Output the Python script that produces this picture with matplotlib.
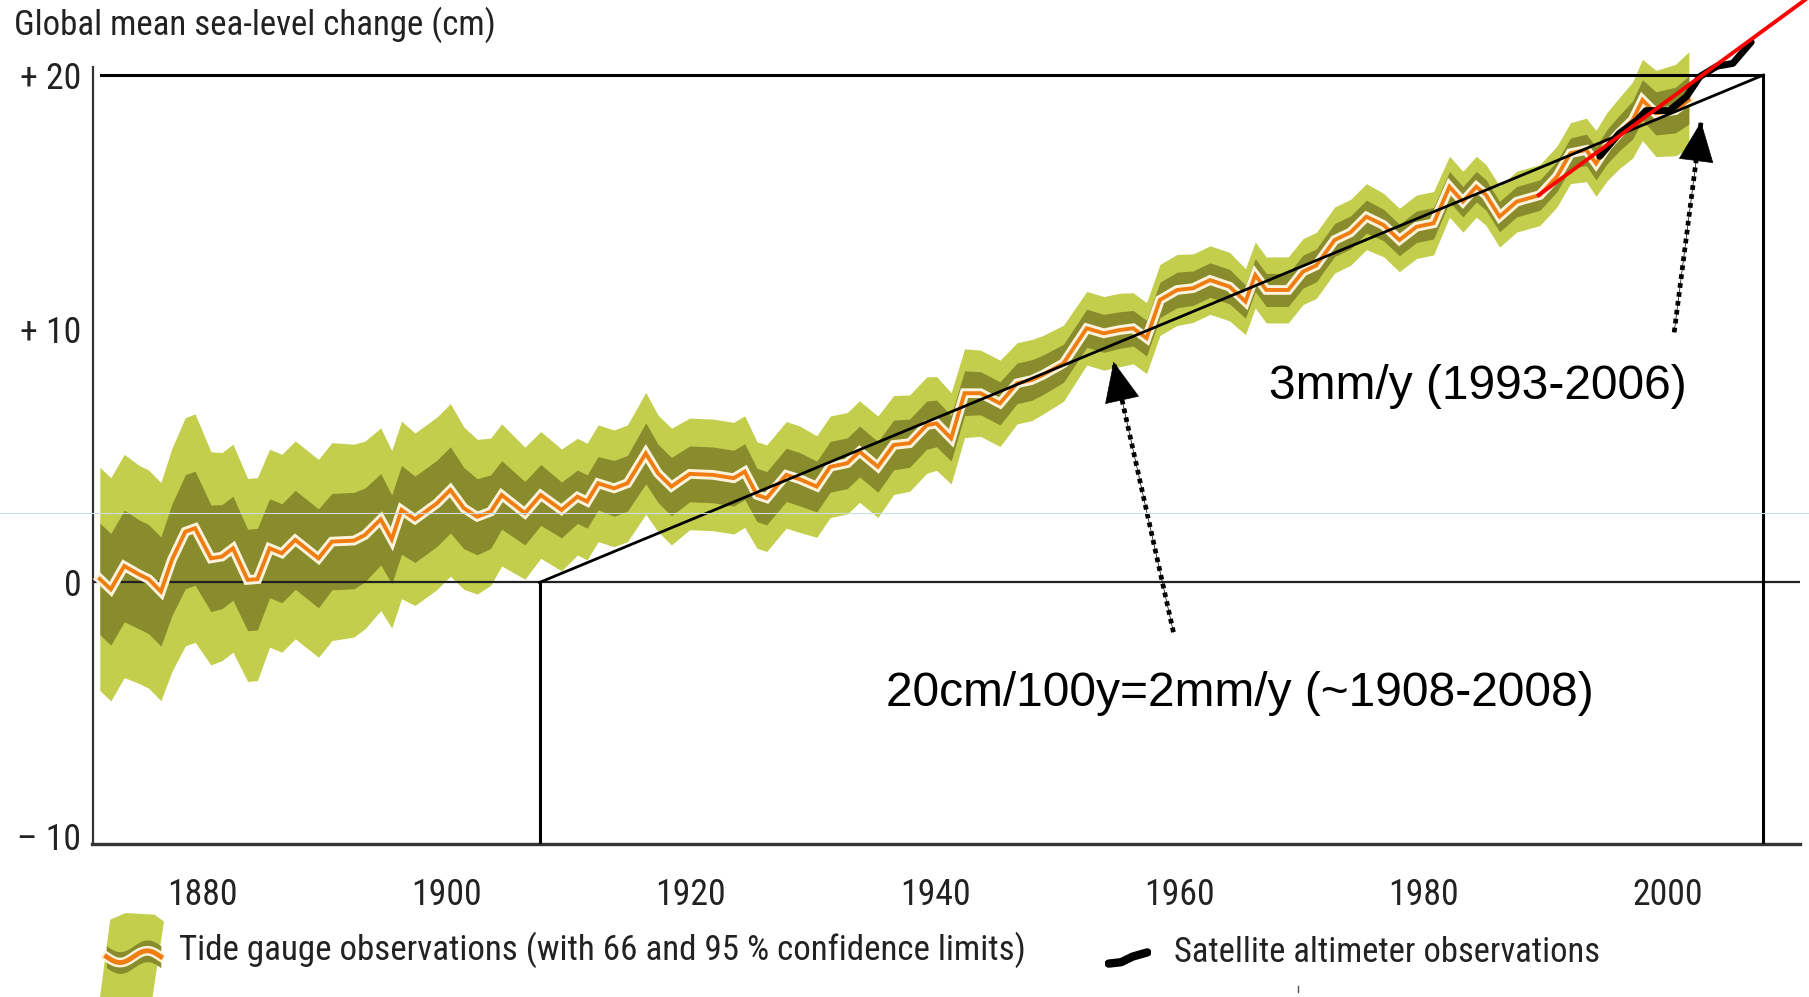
import numpy as np
import matplotlib
matplotlib.use('Agg')
import matplotlib.pyplot as plt
import matplotlib.patheffects as pe
import matplotlib.font_manager as fm
from matplotlib.patches import Polygon

# Tide gauge record, cm
years = [1871.6, 1872.5, 1873.6, 1874.8, 1875.6, 1876.6, 1877.5, 1878.6, 1879.4, 1880.7,
         1881.6, 1882.5, 1883.7, 1884.5, 1885.5, 1886.5, 1887.6, 1889.5, 1890.6, 1892.4,
         1893.3, 1894.6, 1895.5, 1896.3, 1897.4, 1899.2, 1900.3, 1901.4, 1902.5, 1903.6,
         1904.5, 1906.4, 1907.7, 1909.4, 1910.7, 1911.5, 1912.4, 1913.7, 1914.8, 1916.3,
         1917.3, 1918.4, 1919.9, 1921.8, 1923.5, 1924.4, 1925.4, 1926.2, 1927.8, 1928.9,
         1930.3, 1931.4, 1932.8, 1933.8, 1935.3, 1936.6, 1937.9, 1939.3, 1940.1, 1941.3,
         1942.4, 1943.7, 1945.3, 1946.7, 1947.9, 1948.8, 1950.5, 1952.4, 1953.8, 1955.1,
         1956.2, 1957.3, 1958.4, 1959.8, 1961.1, 1962.5, 1964.1, 1965.4, 1966.2, 1967.1,
         1968.9, 1970.1, 1971.2, 1972.7, 1974.0, 1975.3, 1976.7, 1978.0, 1979.4, 1980.8,
         1982.1, 1983.2, 1984.3, 1985.1, 1986.2, 1987.6, 1989.5, 1990.9, 1992.0, 1993.3,
         1994.1, 1995.0, 1996.0, 1997.1, 1997.9, 1999.0, 2000.6, 2001.7]
sea_level = [0.14, -0.27, 0.65, 0.32, 0.13, -0.36, 0.89, 2.00, 2.14, 0.95,
             1.02, 1.35, 0.10, 0.13, 1.35, 1.15, 1.68, 0.95, 1.61, 1.65,
             1.87, 2.49, 1.70, 2.86, 2.49, 3.12, 3.65, 2.93, 2.59, 2.79,
             3.45, 2.73, 3.45, 2.86, 3.38, 3.19, 3.91, 3.71, 3.91, 5.09,
             4.30, 3.78, 4.28, 4.24, 4.11, 4.37, 3.45, 3.32, 4.24, 4.07,
             3.78, 4.56, 4.70, 5.16, 4.56, 5.42, 5.49, 6.20, 6.27, 5.68,
             7.46, 7.46, 7.06, 7.85, 7.98, 8.18, 8.64, 10.02, 9.82, 9.95,
             10.02, 9.63, 11.14, 11.53, 11.60, 11.92, 11.66, 11.07, 12.12, 11.53,
             11.53, 12.25, 12.50, 13.50, 13.80, 14.42, 14.09, 13.50, 14.02, 14.16,
             15.60, 15.01, 15.60, 15.27, 14.42, 15.01, 15.27, 16.00, 16.92, 17.05,
             16.52, 17.18, 17.71, 18.23, 19.02, 18.49, 18.62, 19.02]
# half widths of the 95 % and 66 % confidence bands
ci95 = [4.4, 4.4, 4.4, 4.3, 4.3, 4.3, 4.4, 4.5, 4.5, 4.2,
        4.1, 4.1, 4.0, 4.0, 3.9, 3.9, 3.9, 3.9, 3.9, 3.8,
        3.7, 3.6, 3.5, 3.5, 3.4, 3.4, 3.4, 3.2, 3.05, 2.9,
        2.8, 2.6, 2.5, 2.4, 2.3, 2.3, 2.3, 2.3, 2.3, 2.4,
        2.3, 2.3, 2.2, 2.2, 2.2, 2.2, 2.1, 2.1, 2.1, 2.1,
        2.0, 2.0, 2.0, 2.0, 2.0, 1.95, 1.9, 1.9, 1.85, 1.8,
        1.75, 1.7, 1.7, 1.6, 1.6, 1.55, 1.5, 1.45, 1.45, 1.45,
        1.4, 1.4, 1.4, 1.4, 1.35, 1.35, 1.35, 1.3, 1.3, 1.3,
        1.3, 1.3, 1.3, 1.3, 1.3, 1.3, 1.25, 1.25, 1.25, 1.25,
        1.2, 1.2, 1.2, 1.2, 1.2, 1.2, 1.2, 1.2, 1.2, 1.25,
        1.3, 1.35, 1.4, 1.5, 1.6, 1.7, 1.8, 1.9]
ci66 = [2.2, 2.2, 2.2, 2.15, 2.15, 2.15, 2.2, 2.25, 2.25, 2.1,
        2.05, 2.05, 2.0, 2.0, 1.95, 1.95, 1.95, 1.95, 1.9, 1.9,
        1.85, 1.8, 1.75, 1.75, 1.7, 1.7, 1.7, 1.6, 1.5, 1.45,
        1.35, 1.25, 1.2, 1.1, 1.05, 1.05, 1.05, 1.1, 1.1, 1.2,
        1.15, 1.15, 1.1, 1.1, 1.1, 1.1, 1.05, 1.05, 1.05, 1.05,
        1.0, 1.0, 1.0, 1.0, 1.0, 0.98, 0.95, 0.95, 0.92, 0.9,
        0.88, 0.85, 0.85, 0.8, 0.8, 0.78, 0.75, 0.75, 0.75, 0.72,
        0.7, 0.7, 0.7, 0.7, 0.68, 0.68, 0.68, 0.65, 0.65, 0.65,
        0.65, 0.65, 0.65, 0.65, 0.65, 0.65, 0.62, 0.62, 0.62, 0.62,
        0.6, 0.6, 0.6, 0.6, 0.6, 0.6, 0.6, 0.6, 0.6, 0.62,
        0.65, 0.68, 0.7, 0.75, 0.8, 0.85, 0.9, 0.95]

# Satellite altimeter record
sat_years = [1994.4, 1996.0, 1997.4, 1998.2, 2000.1, 2001.5, 2002.6, 2004.0, 2005.3, 2006.8]
sat_level = [16.8, 17.7, 18.2, 18.6, 18.6, 19.15, 19.94, 20.35, 20.46, 21.3]

# trend annotations
trend100_start = (1907.6, 0.0)
trend100_end = (2007.8, 20.0)
trend3mm_start = (1989.4, 15.27)
trend3mm_end = (2011.2, 22.96)
arrows = [((1959.5, -1.96), (1954.6, 8.70)), ((2000.5, 9.86), (2002.7, 18.16))]

yticks = [20, 10, 0, -10]
ytick_labels = ['+ 20', '+ 10', '0', '\u2013 10']
xticks = [1880, 1900, 1920, 1940, 1960, 1980, 2000]

# pick a condensed face if one is there, else plain Liberation Sans
avail = {(f.name, f.stretch) for f in fm.fontManager.ttflist}
names = {n for n, s in avail}
narrow = dict(family=['Liberation Sans', 'DejaVu Sans'])
for cand in ['Liberation Sans Narrow', 'Arial Narrow', 'Roboto Condensed', 'Open Sans Condensed']:
    if cand in names:
        narrow = dict(family=[cand, 'DejaVu Sans'])
        break
else:
    if ('DejaVu Sans', 'condensed') in avail or ('DejaVu Sans', 'semi-condensed') in avail:
        narrow = dict(family=['DejaVu Sans'], stretch='condensed')
arial = ['Liberation Sans', 'DejaVu Sans']

light_green = '#c2ce4c'
dark_green = '#888c2c'
orange = '#f07d12'

W, H = 1809, 997
fig = plt.figure(figsize=(W / 100, H / 100), dpi=100)
renderer = fig.canvas.get_renderer()


def fit_width(txt, target):
    w = txt.get_window_extent(renderer).width
    txt.set_fontsize(txt.get_fontsize() * target / w)
    return txt


ax = fig.add_axes([92.5 / W, 1 - 844 / H, (1800 - 92.5) / W, 844 / H])
ax.set_xlim(1871.0, 2010.8)
ax.set_ylim(-10.31, 22.96)

yr = np.array(years)
sl = np.array(sea_level)
c95 = np.array(ci95)
c66 = np.array(ci66)

ax.fill_between(yr, sl - c95, sl + c95, color=light_green, lw=0, zorder=1)
ax.fill_between(yr, sl - c66, sl + c66, color=dark_green, lw=0, zorder=2)
ax.axhline(0, color='#222222', lw=1.6, zorder=3)
ax.plot(yr, sl, color=orange, lw=2.8, zorder=4, solid_joinstyle='miter',
        path_effects=[pe.Stroke(linewidth=7, foreground='#fbf3dc'), pe.Normal()])
ax.plot(sat_years, sat_level, color='black', lw=5, zorder=5,
        solid_capstyle='round', clip_on=False)

# box and 100-year trend line
ax.plot([1871.7, trend100_end[0]], [trend100_end[1], trend100_end[1]], color='black', lw=2.2, zorder=6)
ax.plot([trend100_end[0], trend100_end[0]], [-10.31, trend100_end[1]], color='black', lw=2.2, zorder=6)
ax.plot([trend100_start[0], trend100_start[0]], [-10.31, 0], color='black', lw=2.2, zorder=6)
ax.plot([trend100_start[0], trend100_end[0]], [trend100_start[1], trend100_end[1]],
        color='black', lw=2.0, zorder=6)
# recent trend
ax.plot([trend3mm_start[0], trend3mm_end[0]], [trend3mm_start[1], trend3mm_end[1]],
        color='#ff0000', lw=2.8, zorder=7, clip_on=False)

# dotted arrows: dotted shaft plus a filled head
for tail, tip in arrows:
    ax.plot([tail[0], tip[0]], [tail[1], tip[1]], color='black', lw=3.4,
            ls=(0, (1.0, 0.9)), zorder=8)
    ax.annotate('', xy=tip, xytext=tail,
                arrowprops=dict(arrowstyle='-|>,head_length=1.25,head_width=0.55',
                                lw=0.5, color='black', mutation_scale=22,
                                shrinkA=0, shrinkB=0), zorder=9)

t1 = ax.text(1967.3, 7.73, '3mm/y (1993-2006)', fontsize=34, family=arial,
             ha='left', va='center')
fit_width(t1, 418)
t2 = ax.text(1936.0, -4.39, '20cm/100y=2mm/y (~1908-2008)', fontsize=34, family=arial,
             ha='left', va='center')
fit_width(t2, 708)

# tick label size from the width of "1880"
probe = fig.text(0, 0, '1880', fontsize=26, **narrow)
fit_width(probe, 71)
tick_size = probe.get_fontsize()
probe.remove()

for s in ['top', 'right']:
    ax.spines[s].set_visible(False)
ax.spines['left'].set_color('#333333')
ax.spines['left'].set_linewidth(1.6)
ax.spines['left'].set_bounds(-10.31, 20.3)
ax.spines['bottom'].set_color('#333333')
ax.spines['bottom'].set_linewidth(2.4)
ax.set_yticks(yticks)
ax.set_yticklabels(ytick_labels, fontsize=tick_size, color='#222222', **narrow)
ax.set_xticks(xticks)
ax.set_xticklabels([str(x) for x in xticks], fontsize=tick_size, color='#222222', **narrow)
ax.tick_params(axis='y', length=0, pad=8)
ax.tick_params(axis='x', length=0, pad=24)
ax.patch.set_alpha(0)

title = fig.text(14 / W, 1 - 25 / H, 'Global mean sea-level change (cm)',
                 fontsize=26, ha='left', va='center', color='#222222', **narrow)
fit_width(title, 482)

# faint scan line across the picture
fig.add_artist(plt.Line2D([0, 1], [1 - 513 / H, 1 - 513 / H], color='#cfdce6', lw=0.8))

# legend
leg1 = fig.text(179 / W, 1 - 950 / H, 'Tide gauge observations (with 66 and 95 % confidence limits)',
                fontsize=26, ha='left', va='center', color='#222222', **narrow)
fit_width(leg1, 848)
leg2 = fig.text(1174 / W, 1 - 952 / H, 'Satellite altimeter observations',
                fontsize=26, ha='left', va='center', color='#222222', **narrow)
fit_width(leg2, 427)

icon = fig.add_axes([100 / W, 0, 64 / W, 84 / H])
icon.set_xlim(0, 1)
icon.set_ylim(0, 1)
icon.axis('off')
icon.add_patch(Polygon([(0.0, 0.0), (0.16, 0.92), (0.4, 1.0), (0.85, 0.98), (1.0, 0.9),
                        (0.82, 0.0)], closed=True, color=light_green, lw=0))
tw = np.linspace(0.1, 0.95, 30)
wave = 0.48 - 0.07 * np.sin((tw - 0.1) * 2 * np.pi / 0.85)
icon.fill_between(tw, wave - 0.13, wave + 0.13, color=dark_green, lw=0)
icon.plot(tw, wave, color=orange, lw=3.5,
          path_effects=[pe.Stroke(linewidth=7, foreground='#fbf3dc'), pe.Normal()])

sat_icon = fig.add_axes([1105 / W, 1 - 972 / H, 46 / W, 28 / H])
sat_icon.set_xlim(0, 1)
sat_icon.set_ylim(0, 1)
sat_icon.axis('off')
sat_icon.plot([0.08, 0.35, 0.6, 0.92], [0.3, 0.35, 0.55, 0.7], color='black', lw=6,
              solid_capstyle='round')

fig.add_artist(plt.Line2D([1298 / W, 1298 / W], [1 - 992 / H, 1 - 986 / H], color='#555555', lw=1))

fig.savefig('out.png', dpi=100)
